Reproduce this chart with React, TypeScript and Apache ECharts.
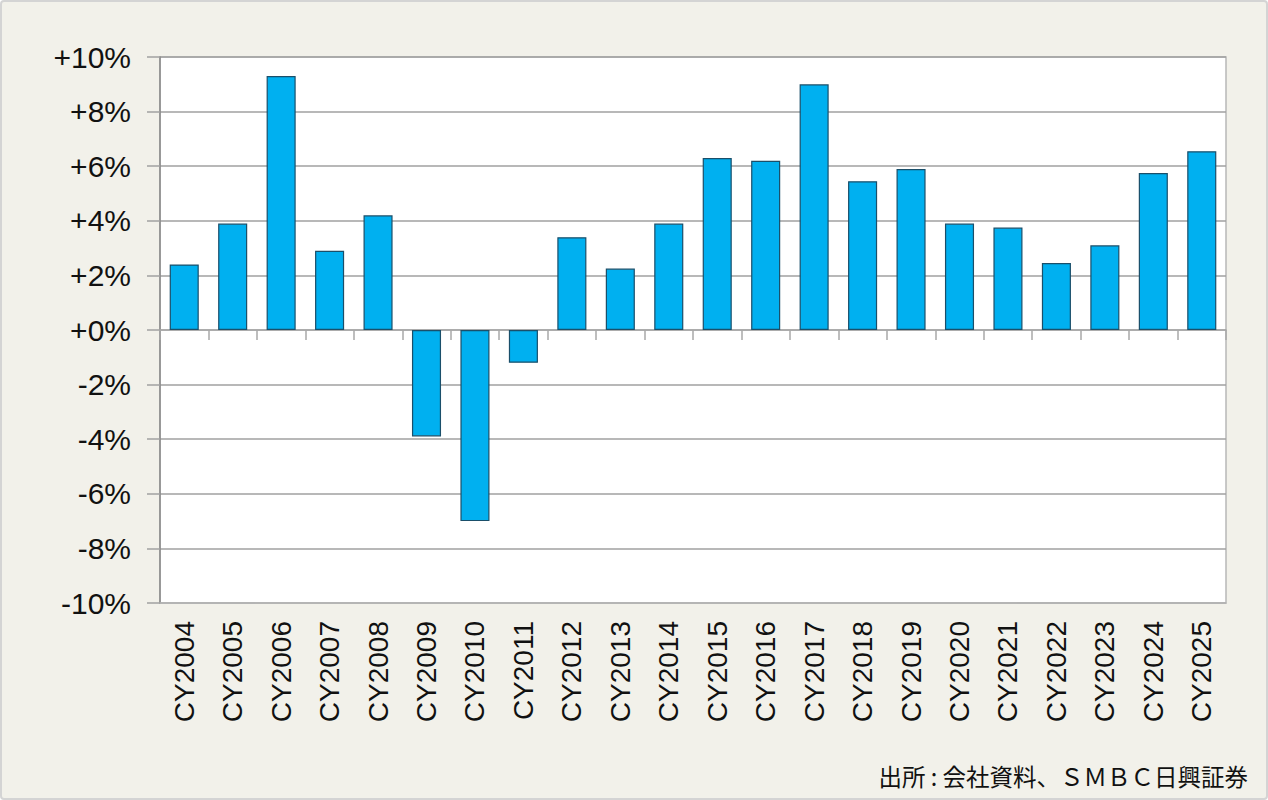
import React, { useEffect, useRef } from "react";
import * as echarts from "echarts";

const categories = [
  "CY2004", "CY2005", "CY2006", "CY2007", "CY2008", "CY2009", "CY2010", "CY2011",
  "CY2012", "CY2013", "CY2014", "CY2015", "CY2016", "CY2017", "CY2018", "CY2019",
  "CY2020", "CY2021", "CY2022", "CY2023", "CY2024", "CY2025",
];
const growth = [
  2.4, 3.9, 9.3, 2.9, 4.2, -3.9, -7.0, -1.2,
  3.4, 2.25, 3.9, 6.3, 6.2, 9.0, 5.45, 5.9,
  3.9, 3.75, 2.45, 3.1, 5.75, 6.55,
];
const sourceNote = "出所 : 会社資料、ＳＭＢＣ日興証券";

const FONT = "'Liberation Sans', Arial, sans-serif";

export default function App() {
  const ref = useRef<HTMLDivElement>(null);
  useEffect(() => {
    document.body.style.margin = "0";
    if (!ref.current) return;
    const chart = echarts.init(ref.current, null, { renderer: "svg" });
    chart.setOption({
      animation: false,
      backgroundColor: "transparent",
      textStyle: { fontFamily: FONT },
      grid: {
        left: 158,
        right: 40,
        top: 55,
        bottom: 195,
        show: true,
        backgroundColor: "#ffffff",
        borderColor: "#b8b8b8",
        borderWidth: 1.5,
      },
      xAxis: [
        {
          type: "category",
          data: categories,
          position: "bottom",
          axisLine: { show: true, onZero: false, lineStyle: { color: "#b8b8b8", width: 1.5 } },
          axisTick: { show: false },
          axisLabel: {
            rotate: 90,
            interval: 0,
            margin: 18,
            fontSize: 28,
            color: "#111111",
            fontFamily: FONT,
          },
        },
        {
          type: "category",
          data: categories,
          position: "bottom",
          axisLine: { show: true, onZero: true, lineStyle: { color: "#a8a8a8", width: 1.5 } },
          axisTick: { show: true, interval: 0, length: 10, lineStyle: { color: "#a8a8a8", width: 1.5 } },
          axisLabel: { show: false },
        },
      ],
      yAxis: {
        type: "value",
        min: -10,
        max: 10,
        interval: 2,
        axisLine: { show: true, lineStyle: { color: "#888888", width: 1.5 } },
        axisTick: { show: true, length: 13, lineStyle: { color: "#a0a0a0", width: 1.5 } },
        splitLine: { show: true, lineStyle: { color: "#a0a0a0", width: 1.5 } },
        axisLabel: {
          fontSize: 30,
          color: "#111111",
          margin: 29,
          fontFamily: FONT,
          formatter: (v: number) => (v >= 0 ? "+" + v + "%" : v + "%"),
        },
      },
      series: [
        {
          type: "bar",
          xAxisIndex: 0,
          data: growth,
          barWidth: "60%",
          itemStyle: { color: "#00b0f0", borderColor: "#1a4f6a", borderWidth: 1.2 },
        },
      ],
      graphic: [
        {
          type: "text",
          right: 18,
          top: 762,
          style: {
            text: sourceNote,
            fontSize: 23.5,
            fill: "#111111",
            fontFamily: "'Noto Sans CJK JP', sans-serif",
          },
        },
      ],
    });
    return () => chart.dispose();
  }, []);
  return (
    <div
      style={{
        width: 1268,
        height: 800,
        boxSizing: "border-box",
        border: "2px solid #d4d4d4",
        borderRadius: 4,
        background: "#f2f1ea",
      }}
    >
      <div ref={ref} style={{ width: 1264, height: 796 }} />
    </div>
  );
}
